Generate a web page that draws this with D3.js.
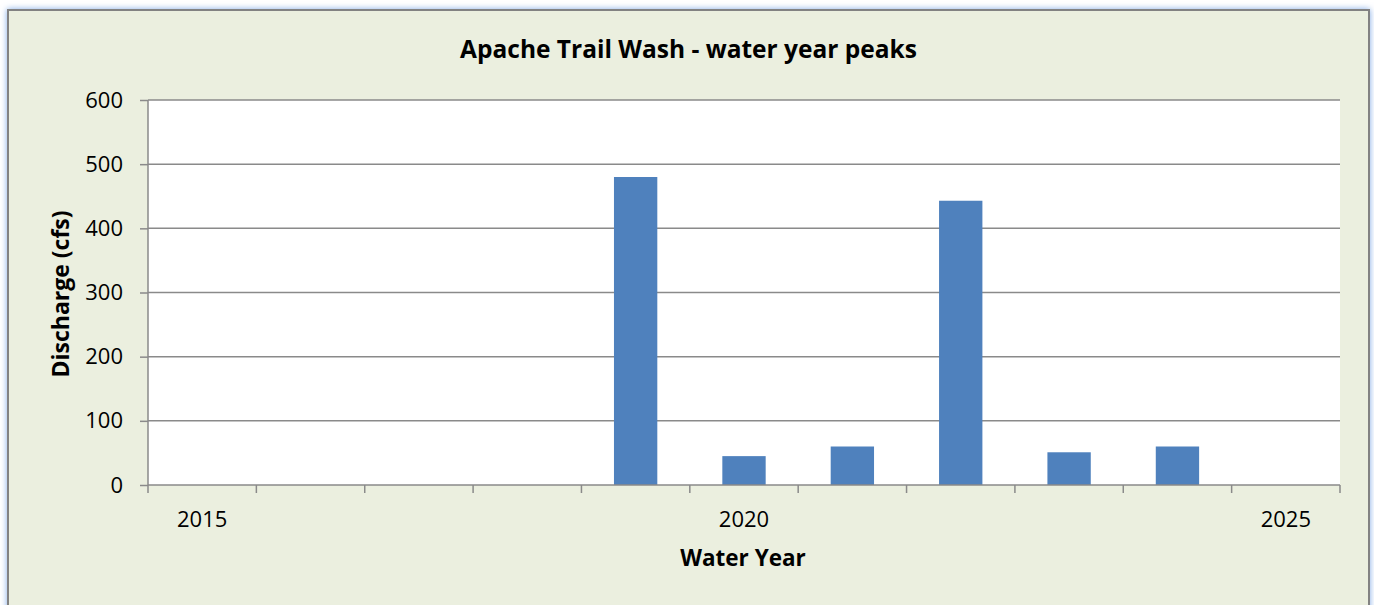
<!DOCTYPE html>
<html>
<head>
<meta charset="utf-8">
<script src="https://cdn.jsdelivr.net/npm/d3@7"></script>
<style>
  html, body { margin: 0; padding: 0; background: #ffffff; overflow: hidden; }
  svg { display: block; font-family: "Open Sans", Lato, sans-serif; }
</style>
</head>
<body>
<svg id="chart" width="1374" height="605"></svg>
<script>
// Annual peak discharge by water year
const years = [2015, 2016, 2017, 2018, 2019, 2020, 2021, 2022, 2023, 2024, 2025];
const peaks = [0, 0, 0, 0, 480, 45, 60, 443, 51, 60, 0];
const yTicks = [0, 100, 200, 300, 400, 500, 600];
const labeledYears = [2015, 2020, 2025];

const titleText = "Apache Trail Wash - water year peaks";
const xTitle = "Water Year";
const yTitle = "Discharge (cfs)";

const svg = d3.select("#chart");
const font = "'Open Sans', Lato, sans-serif";

// Frame with soft blue glow
const defs = svg.append("defs");
const glow = defs.append("filter").attr("id", "glow")
  .attr("x", "-5%").attr("y", "-5%").attr("width", "110%").attr("height", "110%");
glow.append("feGaussianBlur").attr("in", "SourceAlpha").attr("stdDeviation", 3).attr("result", "b");
glow.append("feFlood").attr("flood-color", "#7fa9e6").attr("result", "c");
glow.append("feComposite").attr("in", "c").attr("in2", "b").attr("operator", "in").attr("result", "s");
const m = glow.append("feMerge");
m.append("feMergeNode").attr("in", "s");
m.append("feMergeNode").attr("in", "SourceGraphic");

svg.append("rect")
  .attr("x", 8).attr("y", 10).attr("width", 1361).attr("height", 610)
  .attr("fill", "#ebefdf").attr("stroke", "#828282").attr("stroke-width", 2)
  .attr("filter", "url(#glow)");

const plot = { left: 148, top: 100, right: 1340, bottom: 485 };

const x = d3.scaleBand().domain(years).range([plot.left, plot.right]).paddingInner(0.6).paddingOuter(0.3);
const xEdge = d3.scaleLinear().domain([0, years.length]).range([plot.left, plot.right]);
const y = d3.scaleLinear().domain([0, 600]).range([plot.bottom, plot.top]);

// Plot area
svg.append("rect")
  .attr("x", plot.left).attr("y", plot.top)
  .attr("width", plot.right - plot.left).attr("height", plot.bottom - plot.top)
  .attr("fill", "#ffffff");

// Gridlines
svg.append("g").selectAll("line").data(yTicks.filter(t => t > 0)).join("line")
  .attr("x1", plot.left).attr("x2", plot.right)
  .attr("y1", d => y(d)).attr("y2", d => y(d))
  .attr("stroke", "#8a8a8a").attr("stroke-width", 1.5);

// Bars
svg.append("g").selectAll("rect").data(years.map((yr, i) => ({ yr, v: peaks[i] })).filter(d => d.v > 0)).join("rect")
  .attr("x", d => x(d.yr)).attr("width", x.bandwidth())
  .attr("y", d => y(d.v)).attr("height", d => y(0) - y(d.v))
  .attr("fill", "#4f81bd");

// Y axis
const yAxis = d3.axisLeft(y).tickValues(yTicks).tickSize(8).tickPadding(17).tickFormat(d3.format("d"));
const gy = svg.append("g").attr("transform", `translate(${plot.left},0)`).call(yAxis);
gy.select(".domain").attr("stroke", "#8a8a8a").attr("stroke-width", 1.5)
  .attr("d", `M0,${plot.bottom}V${plot.top}`);
gy.selectAll(".tick line").attr("stroke", "#8a8a8a").attr("stroke-width", 1.5);
gy.selectAll(".tick text").attr("font-size", 22).attr("fill", "#000").attr("font-family", font);

// X axis: boundary ticks between categories, labels every fifth year
const gx = svg.append("g").attr("transform", `translate(0,${plot.bottom})`);
gx.append("line").attr("x1", plot.left).attr("x2", plot.right)
  .attr("stroke", "#8a8a8a").attr("stroke-width", 1.5);
gx.selectAll("line.tk").data(d3.range(years.length + 1)).join("line").attr("class", "tk")
  .attr("x1", d => xEdge(d)).attr("x2", d => xEdge(d))
  .attr("y1", 0).attr("y2", 8)
  .attr("stroke", "#8a8a8a").attr("stroke-width", 1.5);
gx.selectAll("text").data(labeledYears).join("text")
  .attr("x", d => x(d) + x.bandwidth() / 2).attr("y", 42)
  .attr("text-anchor", "middle").attr("font-size", 22).attr("fill", "#000")
  .text(d => d);

// Titles
svg.append("text").attr("x", 688.5).attr("y", 58).attr("text-anchor", "middle")
  .attr("font-size", 24.5).attr("font-weight", "bold").text(titleText);
svg.append("text").attr("x", 743).attr("y", 566).attr("text-anchor", "middle")
  .attr("font-size", 22.5).attr("font-weight", "bold").text(xTitle);
svg.append("text").attr("transform", `translate(69,294) rotate(-90)`)
  .attr("text-anchor", "middle").attr("font-size", 23).attr("font-weight", "bold").text(yTitle);
</script>
</body>
</html>
